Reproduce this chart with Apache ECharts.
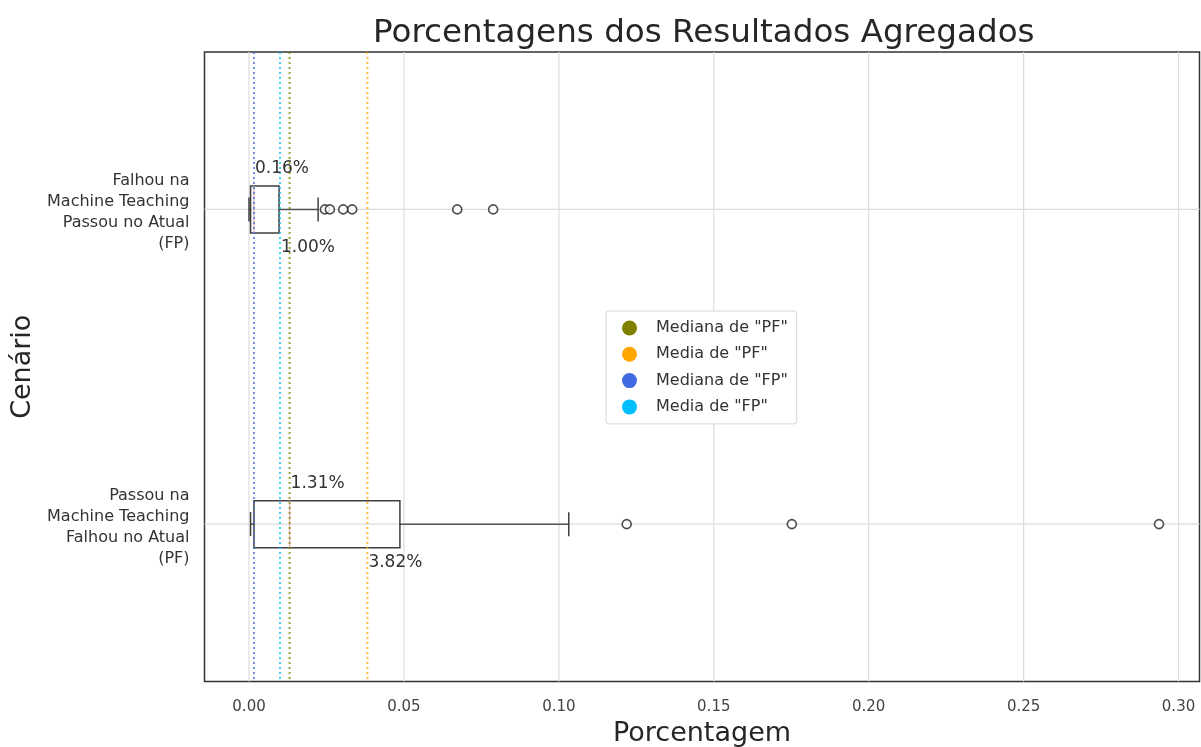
<!DOCTYPE html>
<html>
<head>
<meta charset="utf-8">
<script src="https://cdn.jsdelivr.net/npm/echarts@6/dist/echarts.min.js"></script>
<style>
  html, body { margin: 0; padding: 0; background: #fff; }
  #chart { width: 1201px; height: 747px; }
</style>
</head>
<body>
<div id="chart"></div>
<script>
// categories, top to bottom
const categories = [
  'Falhou na\nMachine Teaching\nPassou no Atual\n(FP)',
  'Passou na\nMachine Teaching\nFalhou no Atual\n(PF)'
];
// [min, q1, median, q3, max] per category
const boxStats = [
  [0.0000, 0.0005, 0.0016, 0.0097, 0.0223],
  [0.0005, 0.0016, 0.0131, 0.0487, 0.1032]
];
const outliersFP = [0.0245, 0.0261, 0.0304, 0.0333, 0.0672, 0.0788];
const outliersPF = [0.1219, 0.1752, 0.2937];

// reference lines (legend)
const refNames = ['Mediana de "PF"', 'Media de "PF"', 'Mediana de "FP"', 'Media de "FP"'];
const refValues = [0.0131, 0.0382, 0.0016, 0.0100];

// text annotations: value, category index, above (-1) / below (1)
const annotValues = [0.0016, 0.0100, 0.0131, 0.0382];
const annotCats = [0, 0, 1, 1];
const annotSide = [-1, 1, -1, 1];

const xTicks = [0, 0.05, 0.10, 0.15, 0.20, 0.25, 0.30];

const refColors = ['#808000', '#FFA500', '#4169E1', '#00BFFF'];
const font = 'DejaVu Sans';

var chart = echarts.init(document.getElementById('chart'));

// full-height vertical line at x value
function vLine(color, dotted, width, opacity) {
  return function (params, api) {
    const cs = params.coordSys;
    const x = api.coord([api.value(0), 0])[0];
    return {
      type: 'line',
      shape: { x1: x, y1: cs.y, x2: x, y2: cs.y + cs.height },
      style: {
        stroke: color,
        lineWidth: width,
        lineDash: dotted ? [2, 3] : null,
        opacity: opacity
      }
    };
  };
}

const refSeries = refNames.map(function (n, i) {
  return {
    name: n,
    type: 'custom',
    z: 5,
    silent: true,
    itemStyle: { color: refColors[i] },
    data: [[refValues[i]]],
    encode: { x: 0 },
    renderItem: vLine(refColors[i], true, 2, 0.75)
  };
});

const option = {
  animation: false,
  backgroundColor: '#fff',
  textStyle: { fontFamily: font },
  title: {
    text: 'Porcentagens dos Resultados Agregados',
    left: 368,
    top: 12,
    textStyle: { fontFamily: font, fontSize: 32.6, fontWeight: 'normal', color: '#262626' }
  },
  legend: {
    data: refNames,
    orient: 'vertical',
    left: 606,
    top: 311,
    icon: 'circle',
    itemWidth: 43,
    itemHeight: 15,
    itemGap: 10.3,
    padding: [9, 9, 9, 16],
    backgroundColor: '#fff',
    borderColor: '#d6d6d6',
    borderWidth: 1,
    borderRadius: 3,
    textStyle: { fontFamily: font, fontSize: 16, lineHeight: 15, color: '#333' }
  },
  grid: {
    left: 204.5,
    right: 1.5,
    top: 52,
    bottom: 65.5,
    outerBoundsMode: 'none',
    containLabel: false,
    show: true,
    borderColor: '#333',
    borderWidth: 1.5,
    backgroundColor: 'transparent'
  },
  xAxis: {
    type: 'value',
    min: -0.01437,
    max: 0.30677,
    name: 'Porcentagem',
    nameLocation: 'middle',
    nameGap: 38.5,
    nameTextStyle: { fontFamily: font, fontSize: 27, color: '#262626' },
    axisLine: { show: false },
    axisTick: { show: false },
    splitLine: { show: false },
    axisLabel: {
      customValues: xTicks,
      formatter: function (v) { return v.toFixed(2); },
      fontFamily: font,
      fontSize: 15,
      color: '#444',
      margin: 18.5
    }
  },
  yAxis: {
    type: 'category',
    data: categories,
    inverse: true,
    name: 'Cenário',
    nameLocation: 'middle',
    nameRotate: 90,
    nameGap: 168,
    nameTextStyle: { fontFamily: font, fontSize: 27, color: '#262626' },
    axisLine: { show: false },
    axisTick: { show: false },
    splitLine: { show: false },
    axisLabel: {
      fontFamily: font,
      fontSize: 16,
      lineHeight: 21,
      color: '#333',
      align: 'right',
      margin: 15,
      formatter: function (v) { return '{p| }\n' + v; },
      rich: { p: { fontSize: 1, lineHeight: 6 } }
    }
  },
  series: [
    {
      // vertical grid lines
      type: 'custom',
      z: 0,
      silent: true,
      data: xTicks.map(function (t) { return [t]; }),
      encode: { x: 0 },
      renderItem: vLine('#dcdcdc', false, 1.2, 1)
    },
    {
      // horizontal grid lines at categories
      type: 'custom',
      z: 0,
      silent: true,
      data: categories.map(function (c, i) { return [0, i]; }),
      encode: { x: 0, y: 1 },
      renderItem: function (params, api) {
        const cs = params.coordSys;
        const y = api.coord([0, api.value(1)])[1];
        return {
          type: 'line',
          shape: { x1: cs.x, y1: y, x2: cs.x + cs.width, y2: y },
          style: { stroke: '#dcdcdc', lineWidth: 1.2 }
        };
      }
    },
    {
      type: 'custom',
      z: 3,
      silent: true,
      data: boxStats.map(function (s, i) { return [i].concat(s); }),
      encode: { x: [1, 2, 3, 4, 5], y: 0 },
      renderItem: function (params, api) {
        const c = api.value(0);
        const pMin = api.coord([api.value(1), c]);
        const pQ1 = api.coord([api.value(2), c]);
        const pMed = api.coord([api.value(3), c]);
        const pQ3 = api.coord([api.value(4), c]);
        const pMax = api.coord([api.value(5), c]);
        const y = pMed[1];
        const h = 47, cap = 12;
        const st = { stroke: '#3f3f3f', lineWidth: 1.5, fill: null };
        const wh = { stroke: '#555', lineWidth: 1.5 };
        return {
          type: 'group',
          children: [
            { type: 'line', shape: { x1: pMin[0], y1: y, x2: pQ1[0], y2: y }, style: wh },
            { type: 'line', shape: { x1: pQ3[0], y1: y, x2: pMax[0], y2: y }, style: wh },
            { type: 'line', shape: { x1: pMin[0], y1: y - cap, x2: pMin[0], y2: y + cap }, style: st },
            { type: 'line', shape: { x1: pMax[0], y1: y - cap, x2: pMax[0], y2: y + cap }, style: st },
            { type: 'rect', shape: { x: pQ1[0], y: y - h / 2, width: pQ3[0] - pQ1[0], height: h }, style: st },
            { type: 'line', shape: { x1: pMed[0], y1: y - h / 2, x2: pMed[0], y2: y + h / 2 },
              style: { stroke: '#e0b0b0', lineWidth: 1.2 } }
          ]
        };
      }
    },
    {
      type: 'scatter',
      z: 4,
      silent: true,
      symbol: 'circle',
      symbolSize: 9,
      itemStyle: { borderColor: '#222', borderWidth: 1.6, color: '#fff' },
      data: outliersFP.map(function (v) { return [v, 0]; })
        .concat(outliersPF.map(function (v) { return [v, 1]; }))
    },
    {
      // percentage annotations
      type: 'custom',
      z: 6,
      silent: true,
      data: annotValues.map(function (v, i) { return [v, annotCats[i], annotSide[i]]; }),
      encode: { x: 0, y: 1 },
      renderItem: function (params, api) {
        const v = api.value(0);
        const p = api.coord([v, api.value(1)]);
        const side = api.value(2);
        return {
          type: 'text',
          x: p[0] + 1,
          y: p[1] + (side < 0 ? -41 : 38),
          style: {
            text: (v * 100).toFixed(2) + '%',
            fontFamily: font,
            fontSize: 17,
            fill: '#333',
            align: 'left',
            verticalAlign: 'middle'
          }
        };
      }
    }
  ].concat(refSeries)
};

chart.setOption(option);
window.addEventListener('resize', function () { chart.resize(); });
</script>
</body>
</html>
